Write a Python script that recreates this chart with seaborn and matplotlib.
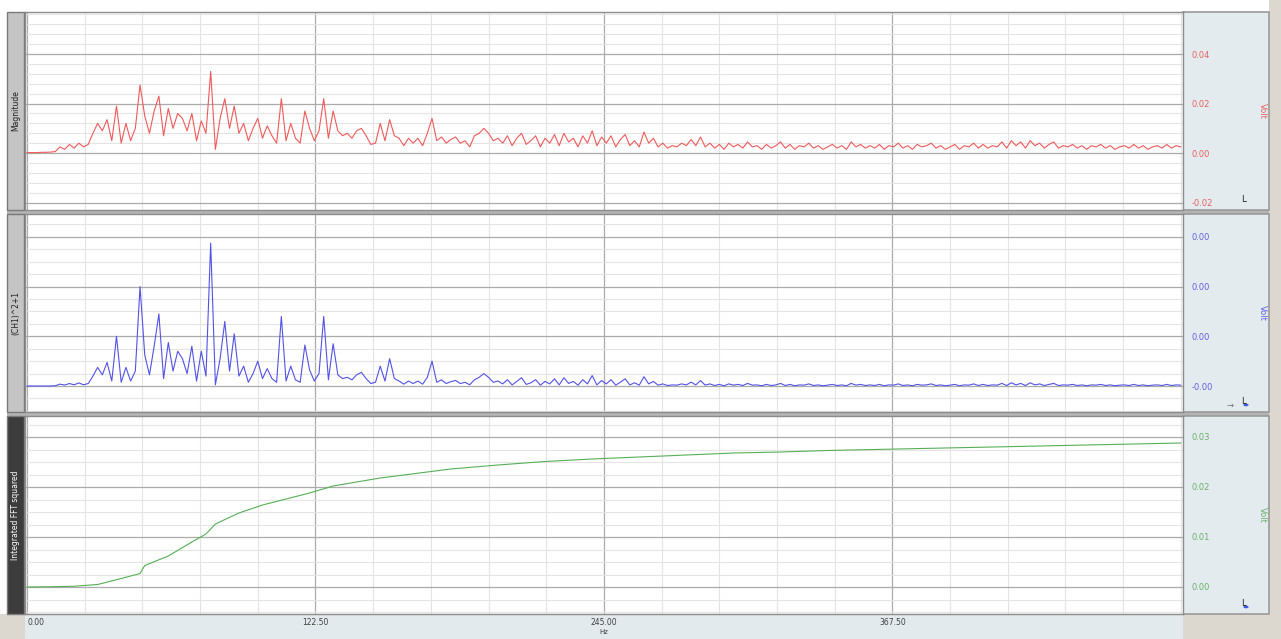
import numpy as np
import matplotlib
matplotlib.use("Agg")
import matplotlib.pyplot as plt
import matplotlib.ticker as mticker
from matplotlib.patches import Rectangle, Circle
import seaborn as sns

# spectrum sampled every 2 Hz, 0 .. 490 Hz
HZ_STEP = 2.0

# FFT magnitude, mV
magnitude_mv = [
    0.2, 0.2, 0.2, 0.3, 0.3, 0.4, 0.6,
    2.5, 1.5, 3.5, 2, 4, 2.5, 3.5,
    8, 12, 9, 13.5, 5, 19, 4, 12, 5, 10,
    27.5, 15, 8, 17, 23, 7, 18, 10, 16, 14,
    9, 16, 5, 13, 8, 33, 1.5, 14, 22, 10,
    19, 8, 12, 5, 10, 14, 6, 11, 7, 4,
    22, 5, 12, 6, 4, 17, 10, 5, 9, 22,
    6, 17, 9, 7, 8, 6, 9, 10, 7, 3.5,
    4, 12, 5, 13.5, 7, 6, 3, 6, 4, 6,
    3, 8, 14, 5, 6.5, 4, 5.5, 6.5, 4, 5,
    2.5, 7, 8, 10, 8, 5, 6,
    4, 7, 3, 6, 8, 3.5, 5, 7, 2.5, 6,
    4, 7.5, 3, 8, 4.5, 6, 2.5, 7, 4, 9,
    3, 6.5, 4, 7, 2.5, 5.5, 7.5, 3, 5, 2.5,
    8.5, 4, 6, 2.5, 4, 2, 3, 2.5, 4, 3,
    5.5, 3, 6.5, 2.5, 4, 2, 3.5, 1.5, 4, 2.5,
    3.5, 2, 4.5, 2.5, 3, 1.5, 3.5, 2, 3, 4.5,
    2, 3.5, 1.5, 3, 2.5, 4, 2, 3, 1.5, 2.5,
    3.5, 2, 3, 1.5, 4.5, 2.5, 3.5, 2, 3, 2,
    3.5, 1.5, 3, 2.5, 4, 2, 3, 1.5, 3.5, 2.5,
    3, 4, 2, 3, 1.5, 2.5, 3.5, 1.5, 3, 2.5,
    4, 2, 3.5, 2, 3, 2.5, 4.5, 2, 5, 3,
    4.5, 2, 5, 3, 4, 2, 3.5, 4.5, 2, 3,
    2.5, 3.5, 2, 3, 1.5, 3, 2.5, 3.5, 2, 3,
    1.5, 2.5, 3, 2, 3.5, 2, 3, 1.5, 2.5, 3,
    2, 3.5, 2, 3, 2.5,
]

# CH1 squared, units of 1e-4
power_e4 = [
    0, 0, 0, 0, 0, 0, 0.02,
    0.15, 0.08, 0.2, 0.1, 0.25, 0.1, 0.2,
    0.8, 1.5, 0.9, 1.9, 0.4, 4.0, 0.3, 1.5, 0.4, 1.2,
    8.0, 2.5, 0.9, 3.2, 5.8, 0.6, 3.5, 1.2, 2.8, 2.2,
    1.0, 3.2, 0.4, 2.8, 0.8, 11.5, 0.1, 2.2, 5.2, 1.2,
    4.2, 0.8, 1.6, 0.3, 1.0, 2.0, 0.6, 1.4, 0.6, 0.3,
    5.6, 0.4, 1.6, 0.5, 0.3, 3.3, 1.3, 0.4, 1.0, 5.6,
    0.5, 3.4, 0.9, 0.6, 0.7, 0.5, 0.9, 1.1, 0.6, 0.2,
    0.3, 1.6, 0.4, 2.2, 0.6, 0.4, 0.15, 0.4, 0.2, 0.4,
    0.15, 0.7, 2.0, 0.3, 0.5, 0.2, 0.35, 0.45, 0.2, 0.3,
    0.1, 0.5, 0.7, 1.0, 0.7, 0.3, 0.4,
    .17, .51, .09, .37, .67, .13, .26, .51, .07, .37,
    .17, .58, .09, .67, .21, .37, .07, .51, .17, .84,
    .09, .44, .17, .51, .07, .31, .58, .09, .26, .07,
    .75, .17, .37, .07, .17, .04, .09, .07, .17, .09,
    .31, .09, .44, .07, .17, .04, .13, .02, .17, .07,
    .13, .04, .21, .07, .09, .02, .13, .04, .09, .21,
    .04, .13, .02, .09, .07, .17, .04, .09, .02, .07,
    .13, .04, .09, .02, .21, .07, .13, .04, .09, .04,
    .13, .02, .09, .07, .17, .04, .09, .02, .13, .07,
    .09, .17, .04, .09, .02, .07, .13, .02, .09, .07,
    .17, .04, .13, .04, .09, .07, .21, .04, .26, .09,
    .21, .04, .26, .09, .17, .04, .13, .21, .04, .09,
    .07, .13, .04, .09, .02, .09, .07, .13, .04, .09,
    .02, .07, .09, .04, .13, .04, .09, .02, .07, .09,
    .04, .13, .04, .09, .07,
]

# integrated FFT squared, mV
integ_hz = [0, 10, 20, 30, 40, 48, 50, 60, 70, 76, 80, 90, 100, 110, 120,
            130, 140, 150, 160, 170, 180, 190, 200, 220, 240, 260, 280, 300,
            320, 340, 360, 380, 400, 420, 440, 460, 480, 490]
integ_mv = [0, 0.05, 0.15, 0.5, 1.7, 2.7, 4.3, 6.2, 9.0, 10.6, 12.6, 14.8,
            16.4, 17.6, 18.8, 20.2, 21.0, 21.8, 22.4, 23.0, 23.6, 24.0, 24.4,
            25.1, 25.6, 26.0, 26.4, 26.8, 27.0, 27.3, 27.5, 27.7, 27.9, 28.1,
            28.3, 28.5, 28.7, 28.8]

x_ticks = [0, 122.5, 245, 367.5]
x_tick_labels = ["0.00", "122.50", "245.00", "367.50"]

W, H = 1281, 639
sns.set_style("white")
plt.rcParams['font.family'] = ['DejaVu Sans']
fig = plt.figure(figsize=(W / 100, H / 100), dpi=100)


def fr(x0, y0, x1, y1):
    return [x0 / W, 1 - y1 / H, (x1 - x0) / W, (y1 - y0) / H]


def box(x0, y0, x1, y1, fc, ec="none", lw=0, z=-2):
    r = Rectangle((x0 / W, 1 - y1 / H), (x1 - x0) / W, (y1 - y0) / H,
                  transform=fig.transFigure, fc=fc, ec=ec, lw=lw, zorder=z)
    fig.add_artist(r)


# frame / background pieces (drawn under the axes so tick labels show)
box(0, 614, 25, 639, "#dcd7cf")
box(1183, 614, 1281, 639, "#dcd7cf")
box(1269, 0, 1281, 639, "#dcd7cf")
box(25, 614, 1183, 639, "#e2eaed")
box(7, 210, 1269, 214, "#b4b4b4")
box(7, 412, 1269, 416, "#b4b4b4")

plot_x0, plot_x1 = 25, 1183
panels = [
    dict(top=12, bot=210, ylim=(-0.0230, 0.0570), ticks=[-0.02, 0, 0.02, 0.04],
         labels=["-0.02", "0.00", "0.02", "0.04"], minor=0.004,
         color="#f05a5a", tcolor="#e86060", name="Magnitude",
         strip="#c4c4c4", tc="#202020"),
    dict(top=214, bot=412, ylim=(-0.000209, 0.001384), ticks=[0, 0.0004, 0.0008, 0.0012],
         labels=["-0.00", "0.00", "0.00", "0.00"], minor=0.0001,
         color="#5252e6", tcolor="#6060e0", name="(CH1)^2+1",
         strip="#c4c4c4", tc="#202020"),
    dict(top=416, bot=614, ylim=(-0.0054, 0.0342), ticks=[0, 0.01, 0.02, 0.03],
         labels=["0.00", "0.01", "0.02", "0.03"], minor=0.0025,
         color="#55b055", tcolor="#6ab06a", name="Integrated FFT squared",
         strip="#3c3c3c", tc="#ffffff"),
]

freq_mag = np.arange(len(magnitude_mv)) * HZ_STEP
freq_pow = np.arange(len(power_e4)) * HZ_STEP
series = [
    (freq_mag, np.array(magnitude_mv) / 1000.0),
    (freq_pow, np.array(power_e4) * 1e-4),
    (np.array(integ_hz), np.array(integ_mv) / 1000.0),
]

for i, (p, (fx, fy)) in enumerate(zip(panels, series)):
    # right side readout panel
    box(1183, p["top"], 1269, p["bot"], "#e3ebee", ec="#9a9a9a", lw=1.2, z=-1)
    # left name strip
    box(7, p["top"], 24, p["bot"], p["strip"], ec="#7a7a7a", lw=1.0, z=-1)
    fig.text(15.5 / W, 1 - (p["top"] + p["bot"]) / 2 / H, p["name"], rotation=90,
             ha="center", va="center", fontsize=5.5, color=p["tc"])
    fig.text(1262 / W, 1 - (p["top"] + p["bot"]) / 2 / H, "Volt", rotation=270,
             ha="center", va="center", fontsize=6, color=p["tcolor"])

    ax = fig.add_axes(fr(plot_x0, p["top"], plot_x1, p["bot"]))
    ax.set_facecolor("white")
    sns.lineplot(x=fx, y=fy, ax=ax, color=p["color"], linewidth=0.8)
    ax.set_xlim(-0.85, 490.9)
    ax.set_ylim(*p["ylim"])
    ax.set_xticks(x_ticks)
    ax.xaxis.set_minor_locator(mticker.MultipleLocator(24.5))
    ax.set_yticks(p["ticks"])
    ax.set_yticklabels(p["labels"])
    ax.yaxis.set_minor_locator(mticker.MultipleLocator(p["minor"]))
    ax.yaxis.tick_right()
    ax.tick_params(axis="y", which="both", length=0, pad=6, labelsize=6,
                   labelcolor=p["tcolor"])
    ax.tick_params(axis="x", which="both", length=0)
    ax.grid(which="major", color="#ababab", linewidth=0.9)
    ax.grid(which="minor", color="#e4e4e4", linewidth=0.8)
    ax.set_axisbelow(True)
    ax.set_xlabel("")
    ax.set_ylabel("")
    for s in ax.spines.values():
        s.set_color("#8c8c8c")
        s.set_linewidth(1.0)
    if i < 2:
        ax.tick_params(axis="x", labelbottom=False)
    else:
        ax.set_xticklabels(x_tick_labels)
        ax.tick_params(axis="x", labelsize=5.5, pad=3, labelcolor="#404040")
        ax.get_xticklabels()[0].set_horizontalalignment("left")

    # small toolbar markers in the readout panel
    fig.text(1242 / W, 1 - (p["bot"] - 8) / H, "\u2514", fontsize=8,
             ha="center", va="center", color="#303030")
    if i == 1:
        fig.text(1230 / W, 1 - (p["bot"] - 7) / H, "\u2192", fontsize=6,
                 ha="center", va="center", color="#707070")
    if i > 0:
        fig.add_artist(Circle((1246 / W, 1 - (p["bot"] - 7) / H), 2.6 / W,
                              transform=fig.transFigure, fc="#3a5ee0", ec="none",
                              zorder=3))

fig.text(604 / W, 1 - 632 / H, "Hz", ha="center", va="center", fontsize=5,
         color="#404040")

fig.savefig("out.png", dpi=100)
